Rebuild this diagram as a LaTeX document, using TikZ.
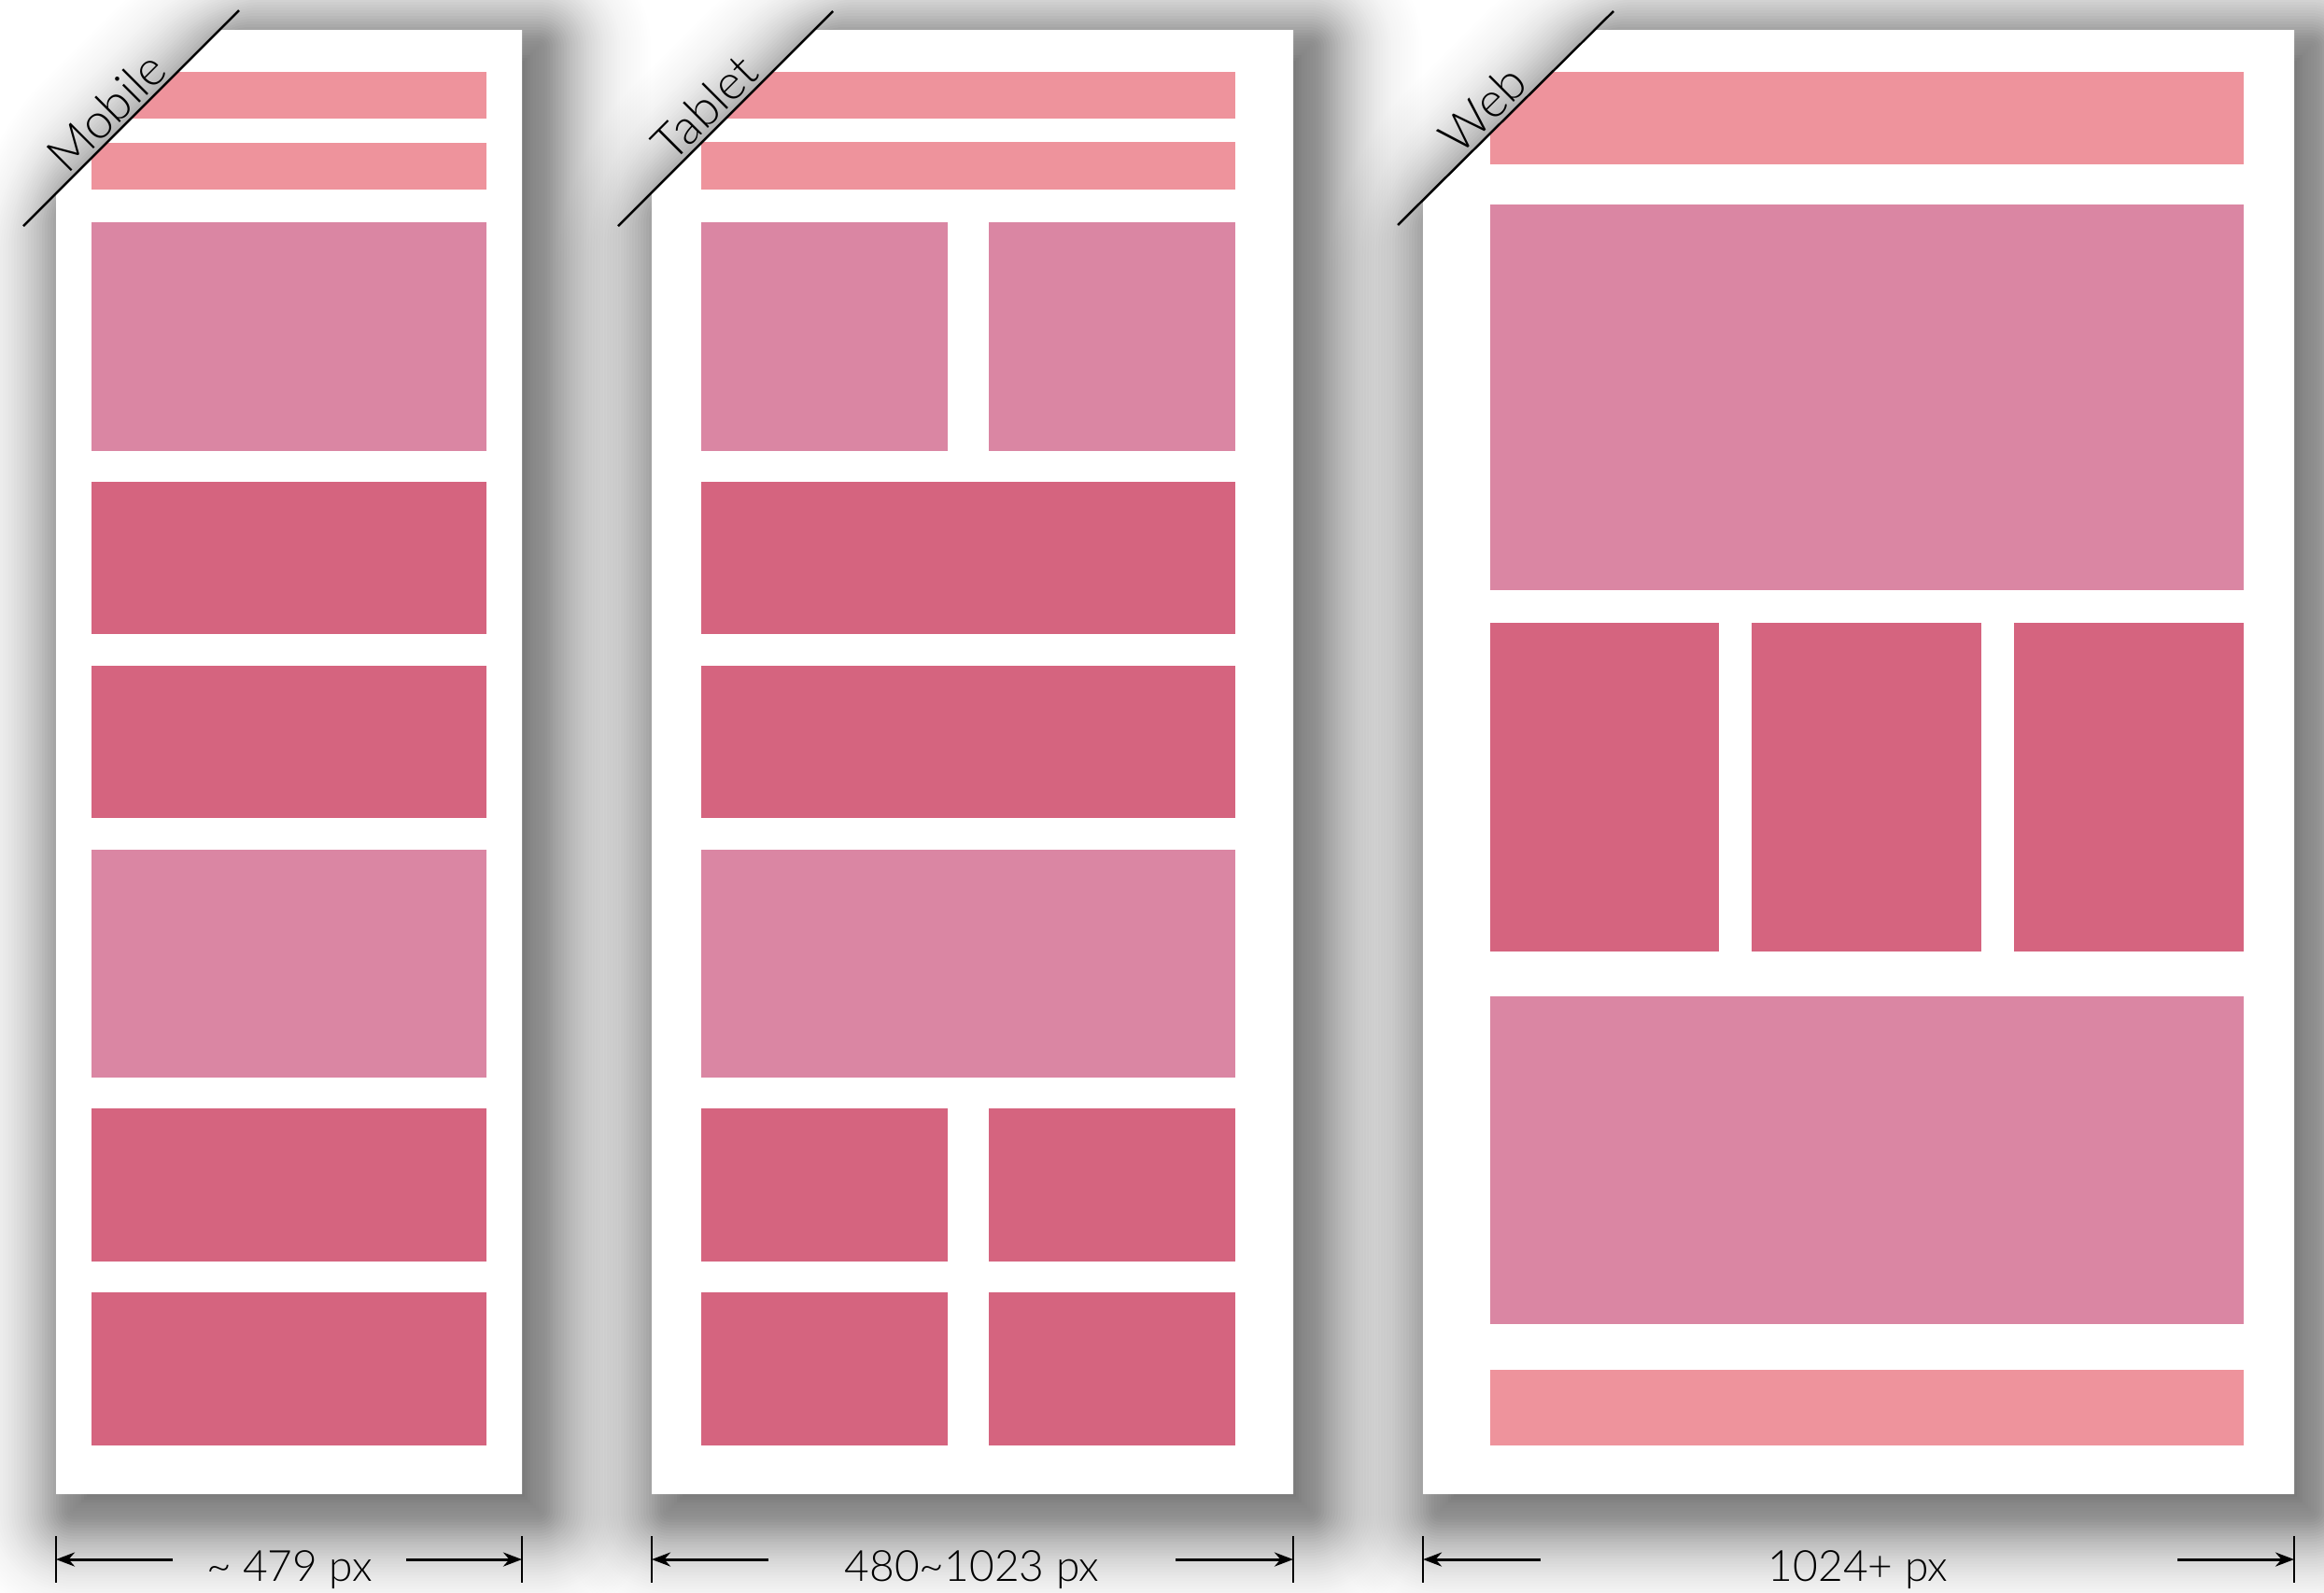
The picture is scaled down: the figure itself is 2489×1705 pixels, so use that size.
\documentclass[tikz,border=0pt]{standalone}
\usepackage{fontspec}
\setmainfont{Lato Light}
\usetikzlibrary{arrows.meta}
\definecolor{barpink}{HTML}{EE939C}
\definecolor{mauve}{HTML}{DA86A3}
\definecolor{deep}{HTML}{D5647F}
\tikzset{
  shadowlayer/.style={fill=black},
  cardbox/.style={fill=white},
  lightbar/.style={fill=barpink},
  mauveblock/.style={fill=mauve},
  deepblock/.style={fill=deep},
  diagline/.style={draw=black, line width=0.7pt},
  devlabel/.style={rotate=45, anchor=base, inner sep=0pt, font=\fontsize{14.8}{18}\selectfont},
  dimtick/.style={draw=black, line width=0.6pt},
  dimarrow/.style={draw=black, line width=0.85pt, -{Stealth[length=0.2cm,width=0.15cm]}},
  dimlabel/.style={anchor=base, inner sep=0pt, font=\fontsize{13.1}{16}\selectfont}
}
% soft drop shadow built from stacked translucent offset outlines (gaussian weights)
% #1 left, #2 top, #3 right, #4 bottom, #5 corner cut
\newcommand{\mycardshadow}[5]{%
  \foreach \o in {-18,-15,...,162} {%
    \pgfmathsetmacro{\xl}{#1+18-\o}%
    \pgfmathsetmacro{\xr}{#3+18+\o}%
    \pgfmathsetmacro{\yt}{#2+18-\o}%
    \pgfmathsetmacro{\yb}{#4+18+\o}%
    \pgfmathsetmacro{\cx}{#1+18+#5+\o*(1-1.41421)}%
    \pgfmathsetmacro{\cy}{#2+18+#5+\o*(1-1.41421)}%
    \pgfmathsetmacro{\rc}{max(\o,0.1)*0.01}%
    \pgfmathsetmacro{\kk}{0.02167*exp(-0.5*(\o/56)*(\o/56))}%
    \pgfmathsetmacro{\aop}{1-exp(-\kk)}%
    \fill[shadowlayer, opacity=\aop, rounded corners=\rc cm] (\cx,\yt) -- (\xr,\yt) -- (\xr,\yb) -- (\xl,\yb) -- (\xl,\cy) -- cycle;
  }%
}
\begin{document}
\begin{tikzpicture}[x=0.01cm,y=-0.01cm]
\useasboundingbox (0,0) rectangle (2489,1705);
\fill[white] (0,0) rectangle (2489,1705);
\begin{scope}
\clip (0,0) rectangle (2489,1705);
\mycardshadow{60}{32}{559}{1600}{175}
\mycardshadow{698}{32}{1385}{1600}{174}
\mycardshadow{1524}{32}{2457}{1600}{182}
\end{scope}

% ---------------- Mobile ----------------
\path[cardbox] (235,32) -- (559,32) -- (559,1600) -- (60,1600) -- (60,207) -- cycle;
\begin{scope}
  \clip (235,32) -- (559,32) -- (559,1600) -- (60,1600) -- (60,207) -- cycle;
  \fill[lightbar] (98,77) rectangle (521,127);
  \fill[lightbar] (98,153) rectangle (521,203);
  \fill[mauveblock] (98,238) rectangle (521,483);
  \fill[deepblock] (98,516) rectangle (521,679);
  \fill[deepblock] (98,713) rectangle (521,876);
  \fill[mauveblock] (98,910) rectangle (521,1154);
  \fill[deepblock] (98,1187) rectangle (521,1351);
  \fill[deepblock] (98,1384) rectangle (521,1548);
\end{scope}
\coordinate (mA) at (25,242);
\coordinate (mB) at (256,11);
\draw[diagline] (mA) -- (mB);
\node[devlabel] (mlabel) at (127,133) {Mobile};

% ---------------- Tablet ----------------
\path[cardbox] (872,32) -- (1385,32) -- (1385,1600) -- (698,1600) -- (698,206) -- cycle;
\begin{scope}
  \clip (872,32) -- (1385,32) -- (1385,1600) -- (698,1600) -- (698,206) -- cycle;
  \fill[lightbar] (751,77) rectangle (1323,127);
  \fill[lightbar] (751,152) rectangle (1323,203);
  \fill[mauveblock] (751,238) rectangle (1015,483);
  \fill[mauveblock] (1059,238) rectangle (1323,483);
  \fill[deepblock] (751,516) rectangle (1323,679);
  \fill[deepblock] (751,713) rectangle (1323,876);
  \fill[mauveblock] (751,910) rectangle (1323,1154);
  \fill[deepblock] (751,1187) rectangle (1015,1351);
  \fill[deepblock] (1059,1187) rectangle (1323,1351);
  \fill[deepblock] (751,1384) rectangle (1015,1548);
  \fill[deepblock] (1059,1384) rectangle (1323,1548);
\end{scope}
\coordinate (tA) at (662,242);
\coordinate (tB) at (892,12);
\draw[diagline] (tA) -- (tB);
\node[devlabel] (tlabel) at (768,128) {Tablet};

% ---------------- Web ----------------
\path[cardbox] (1706,32) -- (2457,32) -- (2457,1600) -- (1524,1600) -- (1524,214) -- cycle;
\begin{scope}
  \clip (1706,32) -- (2457,32) -- (2457,1600) -- (1524,1600) -- (1524,214) -- cycle;
  \fill[lightbar] (1596,77) rectangle (2403,176);
  \fill[mauveblock] (1596,219) rectangle (2403,632);
  \fill[deepblock] (1596,667) rectangle (1841,1019);
  \fill[deepblock] (1876,667) rectangle (2122,1019);
  \fill[deepblock] (2157,667) rectangle (2403,1019);
  \fill[mauveblock] (1596,1067) rectangle (2403,1418);
  \fill[lightbar] (1596,1467) rectangle (2403,1548);
\end{scope}
\coordinate (wA) at (1497,241);
\coordinate (wB) at (1728,12);
\draw[diagline] (wA) -- (wB);
\node[devlabel] (wlabel) at (1601,130) {Web};

% ---------------- Dimensions ----------------
% mobile
\coordinate (m1t) at (60,1645);  \coordinate (m1b) at (60,1695);
\coordinate (m2t) at (559,1645); \coordinate (m2b) at (559,1695);
\coordinate (m1) at (60,1670);   \coordinate (m2) at (559,1670);
\coordinate (m1s) at (185,1670); \coordinate (m2s) at (435,1670);
\draw[dimtick] (m1t) -- (m1b);
\draw[dimtick] (m2t) -- (m2b);
\draw[dimarrow] (m1s) -- (m1);
\draw[dimarrow] (m2s) -- (m2);
\node[dimlabel] (mdim) at (310,1693) {\textasciitilde{} 479 px};

% tablet
\coordinate (t1t) at (698,1645);  \coordinate (t1b) at (698,1695);
\coordinate (t2t) at (1385,1645); \coordinate (t2b) at (1385,1695);
\coordinate (t1) at (698,1670);   \coordinate (t2) at (1385,1670);
\coordinate (t1s) at (823,1670);  \coordinate (t2s) at (1259,1670);
\draw[dimtick] (t1t) -- (t1b);
\draw[dimtick] (t2t) -- (t2b);
\draw[dimarrow] (t1s) -- (t1);
\draw[dimarrow] (t2s) -- (t2);
\node[dimlabel] (tdim) at (1041,1693) {480\textasciitilde{}1023 px};

% web
\coordinate (w1t) at (1524,1645); \coordinate (w1b) at (1524,1695);
\coordinate (w2t) at (2457,1645); \coordinate (w2b) at (2457,1695);
\coordinate (w1) at (1524,1670);  \coordinate (w2) at (2457,1670);
\coordinate (w1s) at (1650,1670); \coordinate (w2s) at (2332,1670);
\draw[dimtick] (w1t) -- (w1b);
\draw[dimtick] (w2t) -- (w2b);
\draw[dimarrow] (w1s) -- (w1);
\draw[dimarrow] (w2s) -- (w2);
\node[dimlabel] (wdim) at (1990,1693) {1024+ px};
\end{tikzpicture}
\end{document}
